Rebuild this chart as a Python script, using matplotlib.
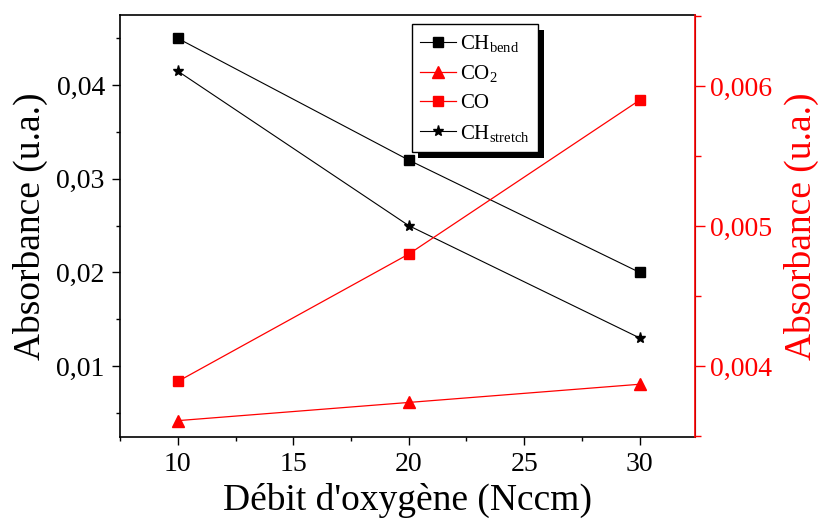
import matplotlib
matplotlib.use("Agg")
import matplotlib.pyplot as plt
from matplotlib.ticker import MultipleLocator, FuncFormatter
from matplotlib.patches import Rectangle

plt.rcParams['font.family'] = ['Liberation Serif', 'DejaVu Serif']
plt.rcParams['mathtext.fontset'] = 'custom'
plt.rcParams['mathtext.rm'] = 'Liberation Serif'
plt.rcParams['mathtext.it'] = 'Liberation Serif:italic'

flow = [10, 20, 30]
ch_bend = [0.045, 0.032, 0.020]
ch_stretch = [0.0415, 0.025, 0.013]
co = [0.00389, 0.0048, 0.0059]
co2 = [0.00361, 0.00374, 0.00387]

labels = [r'CH$_{\mathrm{bend}}$', r'CO$_{2}$', 'CO', r'CH$_{\mathrm{stretch}}$']
xticks = [10, 15, 20, 25, 30]

fig = plt.figure(figsize=(8.25, 5.24), dpi=100)
ax = fig.add_axes([0.1455, 0.166, 0.697, 0.805])
ax2 = ax.twinx()

l1, = ax.plot(flow, ch_bend, color='black', lw=0.8, marker='s', ms=6.5, label=labels[0])
l4, = ax.plot(flow, ch_stretch, color='black', lw=0.8, marker='*', ms=8, label=labels[3])
l2, = ax2.plot(flow, co2, color='red', lw=0.9, marker='^', ms=8, label=labels[1])
l3, = ax2.plot(flow, co, color='red', lw=0.9, marker='s', ms=6.5, label=labels[2])

ax.set_xlim(7.5, 32.4)
ax.set_ylim(0.00242, 0.04747)
ax2.set_ylim(0.003493, 0.006507)

ax.set_xticks(xticks)
ax.xaxis.set_minor_locator(MultipleLocator(2.5))
ax.yaxis.set_major_locator(MultipleLocator(0.01))
ax.yaxis.set_minor_locator(MultipleLocator(0.005))
ax2.yaxis.set_major_locator(MultipleLocator(0.001))
ax2.yaxis.set_minor_locator(MultipleLocator(0.0005))

def comma(dec):
    return FuncFormatter(lambda v, p: f"{v:.{dec}f}".replace('.', ','))

ax.yaxis.set_major_formatter(comma(2))
ax2.yaxis.set_major_formatter(comma(3))

ax.tick_params(which='major', direction='out', length=6, width=1, labelsize=20, pad=5)
ax.tick_params(which='minor', direction='out', length=3, width=1)
ax2.tick_params(which='major', direction='out', length=7, width=1, labelsize=20,
                colors='red', pad=4)
ax2.tick_params(which='minor', direction='out', length=4, width=1, colors='red')

for s in ['left', 'top', 'bottom']:
    ax.spines[s].set_linewidth(1.2)
ax2.spines['right'].set_color('red')
ax2.spines['right'].set_linewidth(1.2)
for s in ['left', 'top', 'bottom']:
    ax2.spines[s].set_visible(False)

ax.set_xlabel("Débit d'oxygène (Nccm)", fontsize=27, labelpad=4)
ax.set_ylabel("Absorbance (u.a.)", fontsize=27, labelpad=6)
ax2.set_ylabel("Absorbance (u.a.)", fontsize=27, color='red', labelpad=8)

leg = ax2.legend([l1, l2, l3, l4], labels, loc='upper left',
                 bbox_to_anchor=(0.508, 0.978), fontsize=15, frameon=True,
                 fancybox=False, framealpha=1, edgecolor='black',
                 handlelength=1.7, labelspacing=0.45, borderpad=0.4,
                 handletextpad=0.2, borderaxespad=0)
leg.get_frame().set_linewidth(1.0)
leg.set_zorder(10)

fig.canvas.draw()
bb = leg.get_window_extent().transformed(fig.transFigure.inverted())
dx, dy = 6 / 825, 6 / 524
sh = Rectangle((bb.x0 + dx, bb.y0 - dy), bb.width, bb.height,
               transform=fig.transFigure, facecolor='black', edgecolor='none',
               zorder=9, clip_on=False)
ax2.add_artist(sh)

fig.savefig("out.png", dpi=100)
